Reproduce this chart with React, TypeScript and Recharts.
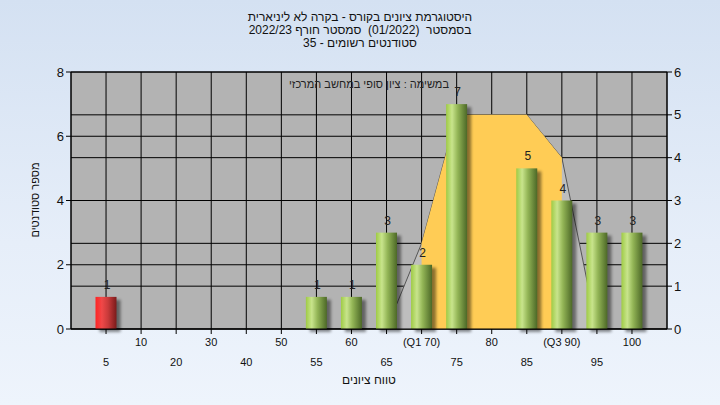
import React from 'react';
import {
  ComposedChart,
  Bar,
  Area,
  XAxis,
  YAxis,
  CartesianGrid,
  LabelList,
} from 'recharts';

const categories = ['5', '10', '20', '30', '40', '50', '55', '60', '65', '(Q1 70)', '75', '80', '85', '(Q3 90)', '95', '100'];
const studentCounts = [1, 0, 0, 0, 0, 0, 1, 1, 3, 2, 7, 0, 5, 4, 3, 3];
const curveValues: (number | null)[] = [null, null, null, null, null, null, null, null, 0, 2, 5, 5, 5, 4, 0, null];
const boxValues: (number | null)[] = [null, null, null, null, null, null, null, null, null, 2, 5, 5, 5, 4, null, null];
const leftTicks = [0, 2, 4, 6, 8];
const rightTicks = [0, 1, 2, 3, 4, 5, 6];

const titleLines = [
  'היסטוגרמת ציונים בקורס - בקרה לא ליניארית',
  'בסמסטר  (01/2022)  סמסטר חורף 2022/23',
  'סטודנטים רשומים - 35',
];
const noteText = 'במשימה : ציון סופי במחשב המרכזי';
const xTitle = 'טווח ציונים';
const yTitle = 'מספר סטודנטים';

const data = categories.map((cat, i) => ({
  cat,
  count: studentCounts[i],
  curve: curveValues[i],
  box: boxValues[i],
}));

const FONT = '"Liberation Sans", Arial, sans-serif';

const CylBar = (props: any) => {
  const { x, y, width, height, index } = props;
  if (!height || height <= 0) return null;
  const fill = index === 0 ? 'url(#redGrad)' : 'url(#greenGrad)';
  return (
    <g>
      <rect x={x + 4} y={y + 3} width={width} height={height} fill="#000" opacity={0.45} filter="url(#shadowBlur)" />
      <rect x={x} y={y} width={width} height={height} fill={fill} />
    </g>
  );
};

const renderLabel = (props: any) => {
  const { x, y, width, value } = props;
  if (!value) return null;
  return (
    <text x={x + width / 2 + 1} y={y - 8} textAnchor="middle" fontSize={12} fontFamily={FONT} fill="#222">
      {value}
    </text>
  );
};

const XTick = (props: any) => {
  const { x, y, payload, index } = props;
  const row = index % 2 === 1 ? 0 : 1;
  return (
    <text x={x} y={y + 10 + row * 20} textAnchor="middle" fontSize={11} fontFamily={FONT} fill="#111">
      {payload.value}
    </text>
  );
};

export default function App() {
  return (
    <div
      style={{
        position: 'absolute',
        left: 0,
        top: 0,
        width: 720,
        height: 405,
        background: 'linear-gradient(to bottom, #d4e1f2 0%, #e6eef9 60%, #eef4fc 100%)',
        fontFamily: FONT,
      }}
    >
      <style>{'body{margin:0}'}</style>
      <ComposedChart
        width={720}
        height={405}
        data={data}
        margin={{ top: 72, right: 13, left: 31, bottom: 36 }}
      >
        <defs>
          <linearGradient id="greenGrad" x1="0" y1="0" x2="1" y2="0">
            <stop offset="0%" stopColor="#9fcb45" />
            <stop offset="28%" stopColor="#c8e48c" />
            <stop offset="55%" stopColor="#93b556" />
            <stop offset="100%" stopColor="#4c6827" />
          </linearGradient>
          <linearGradient id="redGrad" x1="0" y1="0" x2="1" y2="0">
            <stop offset="0%" stopColor="#ff2424" />
            <stop offset="30%" stopColor="#f04848" />
            <stop offset="60%" stopColor="#c83a3a" />
            <stop offset="100%" stopColor="#7a1a1a" />
          </linearGradient>
          <filter id="shadowBlur" x="-50%" y="-50%" width="200%" height="200%">
            <feGaussianBlur stdDeviation="1.6" />
          </filter>
        </defs>
        <CartesianGrid yAxisId="left" stroke="#000" strokeWidth={1} fill="#b3b3b3" fillOpacity={1} strokeDasharray="" />
        <CartesianGrid yAxisId="right" vertical={false} stroke="#000" strokeWidth={1} strokeDasharray="" />
        <XAxis
          dataKey="cat"
          interval={0}
          padding={{ left: 17.5, right: 17.5 }}
          height={40}
          tick={<XTick />}
          tickLine={{ stroke: '#000' }}
          axisLine={{ stroke: '#000' }}
          tickSize={5}
        />
        <YAxis
          yAxisId="left"
          orientation="left"
          width={40}
          domain={[0, 8]}
          ticks={leftTicks}
          tick={{ fontSize: 13, fill: '#111', fontFamily: FONT }}
          tickLine={{ stroke: '#000' }}
          axisLine={{ stroke: '#000' }}
          tickSize={5}
        />
        <YAxis
          yAxisId="right"
          orientation="right"
          width={40}
          domain={[0, 6]}
          ticks={rightTicks}
          tick={{ fontSize: 13, fill: '#111', fontFamily: FONT }}
          tickLine={{ stroke: '#000' }}
          axisLine={{ stroke: '#000' }}
          tickSize={5}
        />
        <Area
          yAxisId="right"
          type="linear"
          dataKey="curve"
          stroke="#555"
          strokeWidth={1}
          fill="#bebebe"
          fillOpacity={1}
          dot={false}
          activeDot={false}
          isAnimationActive={false}
        />
        <Area
          yAxisId="right"
          type="linear"
          dataKey="box"
          stroke="none"
          fill="#ffcc55"
          fillOpacity={1}
          dot={false}
          activeDot={false}
          isAnimationActive={false}
        />
        <Bar yAxisId="left" dataKey="count" barSize={21} shape={<CylBar />} isAnimationActive={false}>
          <LabelList dataKey="count" content={renderLabel} />
        </Bar>
      </ComposedChart>
      <div
        dir="rtl"
        style={{
          position: 'absolute',
          left: 0,
          top: 11,
          width: 720,
          textAlign: 'center',
          fontSize: 12,
          lineHeight: '13px',
          color: '#111',
          whiteSpace: 'pre',
        }}
      >
        {titleLines.map((t, i) => (
          <div key={i}>{t}</div>
        ))}
      </div>
      <div
        dir="rtl"
        style={{ position: 'absolute', left: 219, top: 78, width: 300, textAlign: 'center', fontSize: 11, color: '#222' }}
      >
        {noteText}
      </div>
      <div
        dir="rtl"
        style={{ position: 'absolute', left: 269, top: 373, width: 200, textAlign: 'center', fontSize: 12, color: '#111' }}
      >
        {xTitle}
      </div>
      <div
        dir="rtl"
        style={{
          position: 'absolute',
          left: 35,
          top: 200,
          width: 0,
          height: 0,
        }}
      >
        <div
          style={{
            position: 'absolute',
            left: -60,
            top: -8,
            width: 120,
            textAlign: 'center',
            fontSize: 11,
            lineHeight: '16px',
            color: '#111',
            transform: 'rotate(-90deg)',
          }}
        >
          {yTitle}
        </div>
      </div>
    </div>
  );
}
